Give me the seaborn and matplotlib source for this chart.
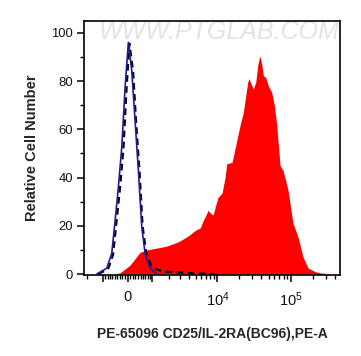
import numpy as np
import pandas as pd
import matplotlib
matplotlib.use("Agg")
import matplotlib.pyplot as plt
from matplotlib.ticker import FixedLocator, FixedFormatter, MultipleLocator
import seaborn as sns

# ---- data (fluorescence intensity, relative cell number) ----
blue_x = [-1347, -838, -619, -482, -351, -219, -94, 30, 158, 285, 414, 552, 692, 918, 1259]
blue_y = [0, 2.4, 8.6, 22, 36, 52.6, 77.4, 96, 84.3, 63.6, 43, 19.5, 8.6, 2.4, 0]

dash_x = [-1276, -781, -565, -422, -284, -151, -38, 68, 208, 324, 462, 585, 736, 966,
          1277, 1762, 2524, 3543, 5770, 9293]
dash_y = [0, 2, 8, 22, 36, 53, 77, 95.5, 84, 63, 42, 20, 9, 3.5, 1.8, 1, 0.7, 0.5, 0.2, 0]

red_x = [-565, -284, 94, 482, 780, 1065, 1445, 1821, 2344, 2888, 3543, 4038, 4604, 5235,
         5770, 6343, 6762, 7440, 7925, 8717, 9580, 10215, 11582, 12733, 13440, 15887,
         17445, 20407, 22649, 24424, 25994, 27073, 28836, 30994, 33416, 35587, 37900,
         40334, 42433, 45730, 49627, 55202, 59938, 64614, 67911, 71688, 78774, 92083,
         107670, 126015, 147477, 172536, 214861, 251310, 343753]
red_y = [0, 0.5, 3.7, 9, 10, 10.5, 11, 11.5, 12.5, 13.5, 15, 16, 17.4, 18.5,
         19, 22, 23.6, 26.4, 25.5, 24.4, 29, 31.8, 33.5, 40, 45.7, 46.3,
         52, 61.6, 67, 74, 79.5, 81, 78.8, 76.7, 79.5, 86.4, 90.5,
         87, 82.2, 81.5, 78, 75.3, 69.8, 61.6, 53.3, 45, 43, 34.7,
         21, 15.3, 7, 2.5, 1, 0.5, 0]

x_major = [-1000, 0, 1000, 10000, 100000]
x_major_labels = ["", "0", "", "$10^4$", "$10^5$"]
x_minor = ([-2000] + [-k * 100 for k in range(1, 10)] + [k * 100 for k in range(1, 10)]
           + [k * 1000 for k in range(2, 10)] + [k * 10000 for k in range(2, 10)]
           + [k * 100000 for k in range(2, 5)])

x_label = "PE-65096 CD25/IL-2RA(BC96),PE-A"
y_label = "Relative Cell Number"

# ---- style ----
sns.set_style("ticks")
plt.rcParams["font.family"] = ["Liberation Sans", "DejaVu Sans"]
plt.rcParams["mathtext.default"] = "regular"

fig = plt.figure(figsize=(3.61, 3.56), dpi=100)
ax = fig.add_axes([84 / 361, 1 - 275 / 356, (340 - 84) / 361, (275 - 20.7) / 356])
ax.set_xscale("asinh", linear_width=1199)

ax.fill_between(red_x, red_y, 0, color="#ff0000", linewidth=0, zorder=1)

df_dash = pd.DataFrame({"x": dash_x, "y": dash_y})
df_blue = pd.DataFrame({"x": blue_x, "y": blue_y})
sns.lineplot(data=df_dash, x="x", y="y", ax=ax, color="black", linewidth=1.6,
             linestyle=(0, (3, 2)), sort=False, estimator=None, zorder=3)
sns.lineplot(data=df_blue, x="x", y="y", ax=ax, color="#1c1c96", linewidth=1.2,
             sort=False, estimator=None, zorder=4)

ax.set_xlim(-2199, 470000)
ax.set_ylim(-0.4, 105)

ax.xaxis.set_major_locator(FixedLocator(x_major))
ax.xaxis.set_major_formatter(FixedFormatter(x_major_labels))
ax.xaxis.set_minor_locator(FixedLocator(x_minor))
ax.yaxis.set_major_locator(MultipleLocator(20))
ax.yaxis.set_minor_locator(MultipleLocator(10))

ax.tick_params(axis="both", which="major", length=5, width=1.1, labelsize=9.4,
               color="black", labelcolor="#111111", pad=3)
ax.tick_params(axis="both", which="minor", length=3, width=1.0, color="black")
ax.tick_params(axis="x", which="major", pad=6, labelsize=10.5)

for s in ax.spines.values():
    s.set_visible(True)
    s.set_linewidth(1.2)
    s.set_color("black")

ax.set_xlabel(x_label, fontsize=10, fontweight="bold", labelpad=13)
ax.set_ylabel(y_label, fontsize=10.5, fontweight="bold", labelpad=9)

# watermark
ax.text(0.53, 0.955, "WWW.PTGLAB.COM", transform=ax.transAxes, ha="center", va="center",
        fontsize=18, style="italic", color="#e3e3e3", zorder=0)

fig.savefig("out.png", dpi=100)
